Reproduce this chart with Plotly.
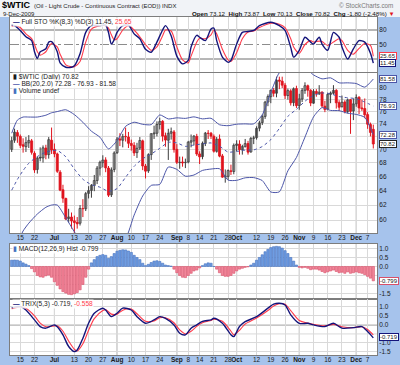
import math
import pandas as pd
import plotly.graph_objects as go

W, H = 400, 365

# ---------------- data ----------------
holidays = ["2009-07-03", "2009-09-07", "2009-11-26"]
dates = [d.strftime("%Y-%m-%d") for d in pd.bdate_range("2009-06-10", "2009-12-09")
         if d.strftime("%Y-%m-%d") not in holidays]

open_ = [70.0,71.4,72.6,72.0,70.7,70.4,71.0,71.3,69.4,67.0,
         68.8,68.7,70.2,69.2,71.4,70.0,69.3,66.6,64.1,62.9,
         60.2,60.4,59.9,59.7,59.6,61.5,61.5,63.6,64.0,64.7,
         65.4,67.2,68.0,68.4,67.2,63.4,67.0,69.5,71.6,71.4,
         72.0,71.9,70.9,70.6,69.5,70.2,71.3,67.5,66.8,69.2,
         72.4,72.5,73.9,74.4,72.1,71.4,72.5,72.7,70.0,68.0,
         68.1,68.0,68.1,71.1,71.3,72.0,69.3,68.9,70.9,72.5,
         72.5,72.0,69.7,71.6,69.0,65.9,66.0,66.8,66.7,70.6,
         70.8,69.9,70.4,70.9,69.6,71.7,71.8,73.3,74.2,75.2,
         77.6,78.5,79.6,79.1,81.4,81.2,80.5,78.7,79.5,77.5,
         79.9,77.0,78.1,79.6,80.4,79.6,77.4,79.4,79.0,79.3,
         76.9,76.4,78.9,79.1,79.6,77.5,76.8,77.6,76.0,78.0,
         76.1,77.3,78.4,76.6,76.5,75.5,73.9,73.12]
high = [71.95,73.23,73.0,72.3,71.7,71.9,72.2,71.6,69.7,68.9,
        70.3,70.6,70.7,71.9,73.4,70.9,69.5,66.9,64.8,63.0,
        61.5,61.0,60.6,60.4,62.0,62.8,63.8,64.6,64.9,66.2,
        67.5,68.3,69.1,68.8,67.5,67.3,69.7,71.9,72.5,72.4,
        73.4,72.7,71.5,71.1,71.0,71.9,71.5,67.8,69.4,72.5,
        73.7,74.4,75.0,74.6,72.6,73.2,73.4,73.0,70.8,68.9,
        68.9,68.6,71.3,72.3,72.2,72.4,69.7,71.2,72.7,73.0,
        72.7,72.3,71.9,72.3,69.3,67.0,67.0,67.7,70.9,71.4,
        71.4,70.7,71.6,71.3,71.9,72.1,73.6,74.5,75.5,77.8,
        78.9,79.7,80.0,82.0,82.0,82.0,80.9,79.9,79.8,80.1,
        80.4,79.0,80.0,81.0,80.6,79.8,79.8,79.8,80.5,79.4,
        77.8,79.2,79.4,80.5,79.8,77.9,78.7,77.9,78.2,78.1,
        78.2,78.9,78.6,78.0,78.2,75.9,74.2,73.87]
low = [69.6,71.0,71.0,70.2,69.5,69.6,70.2,69.2,66.5,66.4,
       68.2,68.0,68.5,68.6,69.3,68.8,66.5,63.9,62.3,60.0,
       59.7,58.9,58.3,58.9,59.3,60.4,61.2,62.9,63.0,63.9,
       64.9,66.1,67.3,66.6,63.1,63.1,66.6,69.3,70.5,70.3,
       71.2,70.2,69.8,69.0,68.7,69.9,66.9,65.7,66.5,68.4,
       71.6,72.0,73.1,71.2,70.4,68.4,71.5,69.5,67.8,67.1,
       67.4,67.2,67.9,70.3,70.6,69.0,67.8,68.5,70.5,71.6,
       71.6,69.5,69.5,68.8,65.8,65.1,65.5,66.2,66.3,69.7,
       69.2,69.2,70.3,69.2,69.5,70.8,71.5,72.8,73.8,74.8,
       76.9,77.4,78.5,78.4,79.8,80.0,78.1,78.0,77.0,76.9,
       76.6,76.3,77.6,79.0,78.5,76.9,77.3,78.5,78.8,76.7,
       75.9,76.2,77.4,78.9,76.5,76.1,76.7,75.7,75.7,72.4,
       74.6,76.8,75.6,76.1,74.9,73.2,72.0,70.13]
close = [71.33,72.68,72.04,70.62,70.47,71.03,71.37,69.55,66.93,68.67,
         68.68,70.23,69.16,71.49,69.89,69.31,66.73,64.05,62.93,60.14,
         60.41,59.89,59.69,59.52,61.54,61.52,63.56,63.98,64.72,65.40,
         67.19,68.05,68.38,67.23,63.35,66.94,69.45,71.58,71.42,71.97,
         71.94,70.93,70.60,69.45,70.16,71.36,67.51,66.75,69.19,72.42,
         72.54,73.89,74.37,72.05,71.43,72.49,72.74,69.96,68.05,68.05,
         67.96,68.02,71.10,71.31,72.04,69.29,68.86,70.93,72.51,72.47,
         72.04,69.71,71.55,68.97,65.89,66.02,66.84,66.71,70.61,70.82,
         69.95,70.41,70.88,69.57,71.69,71.77,73.27,74.15,75.18,77.58,
         78.53,79.61,79.09,81.37,81.19,80.50,78.68,79.55,77.46,79.87,
         77.00,78.13,79.60,80.40,79.62,77.43,79.43,79.05,79.28,76.94,
         76.35,78.90,79.14,79.58,77.46,76.72,77.56,76.02,77.96,76.05,
         77.28,78.37,76.60,76.46,75.47,73.93,72.62,70.82]
prev_close_first = 70.01

bb_idx = [0,2,4,6,9,12,14,16,19,22,25,28,31,34,37,40,43,46,49,52,55,58,61,64,67,70,73,76,79,82,85,88,91,94,97,100,103,106,109,112,115,118,121,124,127]
bb_mid = [64.04,65.56,66.84,67.91,68.91,69.57,69.78,69.84,68.87,67.06,65.59,64.81,64.46,63.88,64.27,65.87,67.46,68.58,69.29,70.15,71.08,70.99,70.45,70.66,70.83,70.98,70.47,69.58,69.68,69.89,69.91,70.43,71.50,73.26,75.22,76.37,77.73,78.72,79.14,78.99,78.53,78.32,78.16,77.60,76.93]
bb_upper = [72.5,74.6,75.1,75.1,75.1,75.4,75.8,76.0,76.3,75.5,74.25,72.82,71.87,70.07,71.33,73.6,74.26,73.92,73.87,75.45,74.79,74.97,74.88,75.13,74.80,74.90,73.85,73.70,73.94,73.99,74.00,75.46,79.21,82.71,83.64,83.97,83.57,82.32,81.61,81.79,80.91,80.91,80.79,80.15,81.58]
bb_lower = [55.5,57.0,58.6,59.6,60.8,61.7,62.0,62.0,60.3,58.5,56.92,56.80,57.04,57.69,57.21,57.67,60.66,63.24,64.72,64.85,67.36,67.01,66.02,66.19,66.86,67.06,67.10,65.46,65.43,65.79,65.82,65.40,63.79,63.81,66.80,68.77,71.89,75.12,76.66,76.19,76.15,75.73,75.53,75.05,72.28]

sto_idx = [0,1,3,5,7,8,9,10,12,13,14,16,17,19,21,22,24,26,28,31,33,34,35,36,37,39,41,43,45,47,49,51,53,54,56,58,60,62,63,65,66,68,70,71,72,74,76,77,79,81,83,85,87,91,94,96,98,99,101,103,105,106,108,109,111,113,115,116,118,120,122,124,126,127]
sto_k = [90,89,79,66,58,35,21,35,41,55,56,35,12,3,3,6,31,75,89,89,90,75,51,60,75,89,90,72,62,40,34,55,80,89,68,26,10,17,45,69,65,58,82,84,58,24,13,17,51,75,77,79,89,96,89,79,44,24,38,65,55,51,65,51,38,75,65,45,20,41,58,55,32,11.45]
sto_d = [88,89,85,72,62,50,35,28,35,45,52,45,30,8,4,4,15,55,82,89,89,84,70,60,62,80,89,80,66,50,38,45,68,80,78,45,18,12,26,55,63,62,70,80,72,40,18,15,33,62,76,78,85,94,92,85,62,45,32,50,58,55,57,56,48,55,62,58,38,30,42,52,48,25.65]

macd_hist = [0.35,0.36,0.35,0.30,0.20,0.13,0.05,-0.12,-0.30,-0.50,
             -0.58,-0.60,-0.52,-0.48,-0.60,-0.85,-1.05,-1.25,-1.40,-1.48,
             -1.55,-1.57,-1.52,-1.45,-1.30,-1.00,-0.60,-0.15,0.20,0.38,
             0.55,0.62,0.66,0.62,0.45,0.55,0.72,0.85,0.90,0.93,
             0.92,0.86,0.78,0.62,0.50,0.38,0.18,0.05,0.12,0.22,
             0.30,0.32,0.28,0.18,0.08,0.05,0.02,-0.15,-0.35,-0.50,
             -0.60,-0.62,-0.50,-0.38,-0.25,-0.20,-0.08,0.05,0.15,0.20,
             0.18,0.00,-0.15,-0.35,-0.50,-0.55,-0.55,-0.50,-0.38,-0.25,
             -0.15,-0.10,-0.05,-0.02,0.08,0.18,0.35,0.50,0.65,0.82,
             0.95,1.05,1.10,1.12,1.10,1.02,0.88,0.72,0.50,0.30,
             0.08,-0.05,-0.08,-0.05,-0.10,-0.18,-0.15,-0.15,-0.20,-0.28,
             -0.35,-0.30,-0.25,-0.20,-0.28,-0.35,-0.32,-0.38,-0.30,-0.38,
             -0.35,-0.30,-0.35,-0.38,-0.45,-0.55,-0.65,-0.799]

trix_idx = [0,3,5,8,10,12,15,16,18,20,22,23,25,27,29,32,33,35,37,39,42,44,47,50,52,54,57,59,61,63,65,67,70,71,74,77,78,80,82,86,90,92,94,96,98,101,104,106,110,113,116,120,123,125,127]
trix = [0.95,1.02,0.83,0.28,-0.09,-0.18,0.0,-0.1,-0.55,-1.2,-1.48,-1.39,-0.74,0.09,0.65,0.93,0.83,0.46,0.65,0.93,0.83,0.46,0.09,0.28,0.46,0.37,0.0,-0.46,-0.55,-0.18,0.0,0.2,0.28,0.37,0.09,-0.55,-0.65,-0.09,0.18,0.46,0.93,1.15,1.2,1.11,0.56,0.09,0.09,0.0,-0.09,0.09,-0.18,-0.15,-0.09,-0.37,-0.719]
trix_sig = [0.9,1.0,0.92,0.5,0.1,-0.1,-0.05,-0.05,-0.35,-0.9,-1.35,-1.45,-1.05,-0.3,0.35,0.8,0.85,0.6,0.6,0.82,0.88,0.62,0.2,0.22,0.4,0.4,0.12,-0.28,-0.5,-0.35,-0.08,0.12,0.25,0.32,0.2,-0.35,-0.55,-0.3,0.05,0.38,0.8,1.05,1.18,1.15,0.8,0.25,0.1,0.03,-0.05,0.03,-0.1,-0.15,-0.1,-0.25,-0.558]

tick_dates = ["2009-06-15","2009-06-22","2009-07-01","2009-07-13","2009-07-20","2009-07-27",
              "2009-08-03","2009-08-10","2009-08-17","2009-08-24","2009-09-01","2009-09-08",
              "2009-09-14","2009-09-21","2009-09-28","2009-10-01","2009-10-12","2009-10-19",
              "2009-10-26","2009-11-02","2009-11-09","2009-11-16","2009-11-23","2009-12-01","2009-12-07"]
tick_text = ["15","22","<b>Jul</b>","13","20","27","<b>Aug</b>","10","17","24","<b>Sep</b>","8",
             "14","21","28","<b>Oct</b>","12","19","26","<b>Nov</b>","9","16","23","<b>Dec</b>","7"]
month_dates = ["2009-07-01","2009-08-03","2009-09-01","2009-10-01","2009-11-02","2009-12-01"]
price_ticks = [60,62,64,66,68,70,74,76,78,80]
sto_ticks = [50, 80]
macd_ticks = [-1.5, 0.0, 0.5, 1.0]
macd_tick_text = ["-1.5", "0.0", "0.5", "1.0"]
trix_ticks = [-1.5, -1.0, 0.0, 0.5, 1.0]
trix_tick_text = ["-1.5", "-1.0", "0.0", "0.5", "1.0"]

# ---------------- styling / layout helpers ----------------
FONT = "Liberation Sans, Arial, sans-serif"
RED = "#e0141e"
NAVY = "#14147a"
PINK = "#ff3a4a"
BAND = "#4b55a8"
FRAME = "#a6c3ec"

def px(p):
    return p / W

def py(p):
    return 1 - p / H

def ydom(top, bot):
    return [1 - bot / H, 1 - top / H]

X0, X1 = 10, 377
XR = [-0.6, 128.3]
xs = list(range(len(close)))
pos = {d: i for i, d in enumerate(dates)}
tick_pos = [pos[d] for d in tick_dates]
month_pos = [pos[d] for d in month_dates]

fig = go.Figure()

# ---- STO panel ----
fig.add_trace(go.Scatter(x=sto_idx, y=sto_d, mode="lines", xaxis="x", yaxis="y",
                         line=dict(color=PINK, width=1.1, shape="spline", smoothing=0.7)))
fig.add_trace(go.Scatter(x=sto_idx, y=sto_k, mode="lines", xaxis="x", yaxis="y",
                         line=dict(color=NAVY, width=1.4, shape="spline", smoothing=0.7)))

# ---- price panel ----
prev = [prev_close_first] + close[:-1]
is_red = [c < p for c, p in zip(close, prev)]
filled = [c < o for c, o in zip(close, open_)]
wick_x = {True: [], False: []}
wick_y = {True: [], False: []}
for i in xs:
    r = is_red[i]
    wick_x[r] += [i, i, None]
    wick_y[r] += [low[i], max(high[i], open_[i], close[i]), None]
for r, col in ((False, "#3c3c3c"), (True, RED)):
    fig.add_trace(go.Scatter(x=wick_x[r], y=wick_y[r], mode="lines", xaxis="x2", yaxis="y2",
                             line=dict(color=col, width=1)))
body_base = [min(o, c) for o, c in zip(open_, close)]
body_len = [max(abs(c - o), 0.04) for o, c in zip(open_, close)]
body_fill = [(RED if r else "#3c3c3c") if f else "white" for r, f in zip(is_red, filled)]
body_line = [RED if r else "#3c3c3c" for r in is_red]
fig.add_trace(go.Bar(x=xs, y=body_len, base=body_base, xaxis="x2", yaxis="y2", width=0.72,
                     marker=dict(color=body_fill, line=dict(color=body_line, width=0.8))))
fig.add_trace(go.Scatter(x=bb_idx, y=bb_mid, mode="lines", xaxis="x2", yaxis="y2",
                         line=dict(color=BAND, width=1, dash="dot", shape="spline", smoothing=0.6)))
for arr in (bb_upper, bb_lower):
    fig.add_trace(go.Scatter(x=bb_idx, y=arr, mode="lines", xaxis="x2", yaxis="y2",
                             line=dict(color=BAND, width=1, shape="spline", smoothing=0.6)))

# ---- MACD histogram ----
fig.add_trace(go.Bar(x=xs, y=macd_hist, xaxis="x3", yaxis="y3", width=0.8,
                     marker=dict(color=["#6f9de2" if v >= 0 else "#f2869a" for v in macd_hist],
                                 line=dict(color=["#4672c0" if v >= 0 else "#d8506a" for v in macd_hist],
                                           width=0.6))))

# ---- TRIX ----
fig.add_trace(go.Scatter(x=trix_idx, y=trix_sig, mode="lines", xaxis="x4", yaxis="y4",
                         line=dict(color=PINK, width=1.1, shape="spline", smoothing=0.8)))
fig.add_trace(go.Scatter(x=trix_idx, y=trix, mode="lines", xaxis="x4", yaxis="y4",
                         line=dict(color=NAVY, width=1.4, shape="spline", smoothing=0.8)))

tickfont = dict(family=FONT, size=6.5, color="#1a1a1a")

def xax(anchor, labels):
    return dict(domain=[px(X0), px(X1)], range=XR, anchor=anchor, tickvals=tick_pos, ticktext=tick_text,
                showticklabels=labels, ticks="", tickangle=0, ticklabelstandoff=-2,
                showgrid=True, gridcolor="#d9d9d9",
                gridwidth=1, zeroline=False, showline=True, mirror=True, linecolor="#7d7d7d", linewidth=1,
                tickfont=tickfont, fixedrange=True)

def yax(anchor, dom, rng, tv, tt=None, grid=True, typ="linear"):
    d = dict(domain=dom, range=rng, anchor=anchor, side="right", tickvals=tv, showgrid=grid,
             gridcolor="#d9d9d9", gridwidth=1, zeroline=False, showline=True, mirror=True,
             linecolor="#7d7d7d", linewidth=1, ticks="", tickfont=tickfont, type=typ, fixedrange=True)
    if tt is not None:
        d["ticktext"] = tt
    return d

fig.update_layout(
    width=W, height=H, autosize=False,
    margin=dict(l=0, r=0, t=0, b=0),
    paper_bgcolor=FRAME, plot_bgcolor="white",
    showlegend=False, barmode="overlay", bargap=0,
    font=dict(family=FONT, size=7, color="#1a1a1a"),
    xaxis=xax("y", False), xaxis2=xax("y2", True), xaxis3=xax("y3", False), xaxis4=xax("y4", True),
    yaxis=yax("x", ydom(17, 72), [-6.9, 106.9], sto_ticks, grid=False),
    yaxis2=yax("x2", ydom(73, 233), [math.log10(58.34), math.log10(82.66)], price_ticks,
               [str(v) for v in price_ticks], typ="log"),
    yaxis3=yax("x3", ydom(244, 299), [-1.81, 1.25], macd_ticks, macd_tick_text),
    yaxis4=yax("x4", ydom(299, 355), [-1.67, 1.44], trix_ticks, trix_tick_text),
)

shapes = []
# header band
shapes.append(dict(type="rect", xref="paper", yref="paper", x0=0, x1=1, y0=py(17), y1=1,
                   fillcolor="#f1f3f7", line=dict(width=0), layer="below"))
# month separators
for xa, ya in (("x", "y"), ("x2", "y2"), ("x3", "y3"), ("x4", "y4")):
    for m in month_pos:
        shapes.append(dict(type="line", xref=xa, yref=ya + " domain", x0=m, x1=m, y0=0, y1=1,
                           line=dict(color="#a5a5a5", width=1), layer="below"))
# grid lines whose labels sit under the value boxes
for ya, lvl in (("y3", -0.5), ("y3", -1.0), ("y4", -0.5), ("y2", 72)):
    shapes.append(dict(type="line", xref=ya.replace("y", "x") + " domain", yref=ya, x0=0, x1=1,
                       y0=lvl, y1=lvl, line=dict(color="#d9d9d9", width=1), layer="below"))
# STO reference lines
for lvl, dash in ((80, "solid"), (20, "solid"), (50, "dashdot")):
    shapes.append(dict(type="line", xref="x domain", yref="y", x0=0, x1=1, y0=lvl, y1=lvl,
                       line=dict(color="#6e6e6e" if dash == "solid" else "#8c8c8c", width=1, dash=dash),
                       layer="below"))
# TRIX zero line
shapes.append(dict(type="line", xref="x4 domain", yref="y4", x0=0, x1=1, y0=0, y1=0,
                   line=dict(color="#7a7a7a", width=1), layer="below"))
fig.update_layout(shapes=shapes)

anns = []

def text(t, x, y, size=7, color="#1a1a1a", xanchor="left", bg=None):
    anns.append(dict(text=t, x=px(x), y=py(y), xref="paper", yref="paper", showarrow=False,
                     xanchor=xanchor, yanchor="middle", font=dict(family=FONT, size=size, color=color),
                     bgcolor=bg, borderpad=0))

# header
text("<b>$WTIC</b>", 1, 5.2, size=9, color="#000000")
text("(Oil - Light Crude - Continuous Contract (EOD)) INDX", 33, 6, size=6, color="#222")
text("9-Dec-2009", 2, 13.8, size=6, color="#222")
text("\u00a9 StockCharts.com", 394, 5, size=6.3, color="#7a7a7a", xanchor="right")
text("<b>Open</b> 73.12  <b>High</b> 73.87  <b>Low</b> 70.13  <b>Close</b> 70.82  <b>Chg</b> -1.80 (-2.48%) "
     "<span style='color:#e0141e'>\u25bc</span>", 396, 13.5, size=6.2, color="#111", xanchor="right")

# panel legends
LB = "rgba(255,255,255,0.85)"
text("<span style='color:%s'><b>\u2014</b></span> Full STO %%K(8,3) %%D(3) 11.45, "
     "<span style='color:%s'>25.65</span>" % (NAVY, PINK), 12, 21.5, size=6.6, bg=LB)
text("<b>\u25ae</b> $WTIC (Daily) 70.82", 12, 77.5, size=6.6, bg=LB)
text("<span style='color:%s'><b>\u2014</b></span> BB(20,2.0) 72.28 - 76.93 - 81.58" % BAND, 12, 84, size=6.6, bg=LB)
text("<span style='color:#4672c0'>\u25ae</span> Volume undef", 12, 90.5, size=6.6, bg=LB)
text("<span style='color:#4672c0'>\u25ae</span> MACD(12,26,9) Hist -0.799", 12, 248.5, size=6.6, bg=LB)
text("<span style='color:%s'><b>\u2014</b></span> TRIX(5,3) -0.719, <span style='color:%s'>-0.558</span>"
     % (NAVY, PINK), 12, 303.5, size=6.6, bg=LB)

# right-edge value boxes
def vbox(t, yval, yref, border, tcolor="#1a1a1a"):
    anns.append(dict(text=t, x=px(378.5), y=yval, xref="paper", yref=yref, showarrow=False,
                     xanchor="left", yanchor="middle", font=dict(family=FONT, size=6, color=tcolor),
                     bgcolor="white", bordercolor=border, borderwidth=1, borderpad=0))

vbox("25.65", 25.65, "y", PINK)
vbox("11.45", 11.45, "y", NAVY)
vbox("81.58", math.log10(81.58), "y2", BAND)
vbox("76.93", math.log10(76.93), "y2", BAND)
vbox("72.28", math.log10(72.28), "y2", BAND)
vbox("70.82", math.log10(70.82), "y2", "#222222")
vbox("-0.799", -0.799, "y3", "#d8506a")
vbox("-0.719", -0.65, "y4", NAVY)

fig.update_layout(annotations=anns)

fig.write_html("out.html", include_plotlyjs=True,
               config={"displayModeBar": False, "staticPlot": True},
               post_script="document.body.style.margin='0px';document.body.style.padding='0px';"
                           "document.documentElement.style.overflow='hidden';")
